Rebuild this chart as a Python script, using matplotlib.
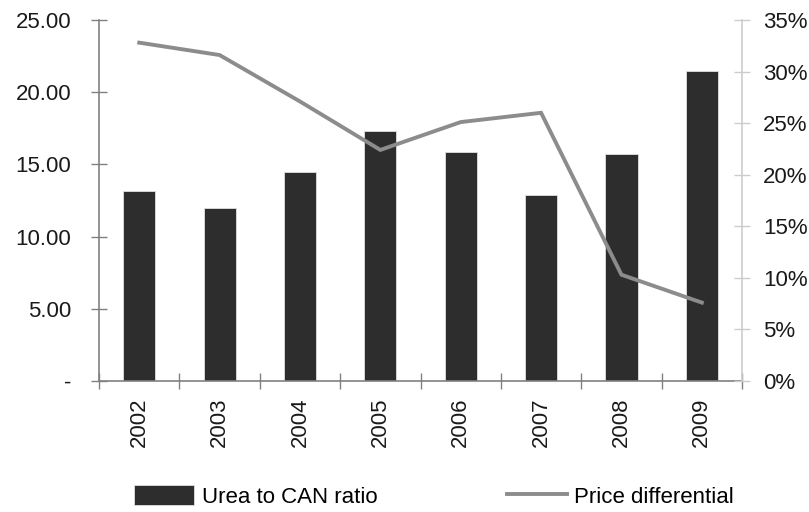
import matplotlib.pyplot as plt
from matplotlib.ticker import FuncFormatter
import numpy as np

plt.rcParams['font.family'] = ['Liberation Sans', 'DejaVu Sans']

years = ['2002', '2003', '2004', '2005', '2006', '2007', '2008', '2009']
urea_can_ratio = [13.18, 11.96, 14.50, 17.33, 15.84, 12.88, 15.70, 21.47]
price_diff = [0.328, 0.316, 0.271, 0.224, 0.251, 0.260, 0.103, 0.076]

x = np.arange(len(years))
fs = 16

fig = plt.figure(figsize=(8.09, 5.12), dpi=100)
ax = fig.add_axes([0.1224, 0.2559, 0.7948, 0.7051])
ax2 = ax.twinx()

bars = ax.bar(x, urea_can_ratio, width=0.4, color='#2d2d2d', edgecolor='#e0e0e0',
              linewidth=0.6, label='Urea to CAN ratio', zorder=2)
line, = ax2.plot(x, price_diff, color='#8c8c8c', linewidth=2.8,
                 label='Price differential', solid_joinstyle='miter')

ax.set_xlim(-0.5, len(years) - 0.5)
ax.set_ylim(0, 25)
ax2.set_ylim(0, 0.35)

ax.set_yticks(np.arange(0, 26, 5))
ax.yaxis.set_major_formatter(FuncFormatter(lambda v, p: '-' if v == 0 else f'{v:.2f}'))
ax2.set_yticks(np.arange(0, 0.351, 0.05))
ax2.yaxis.set_major_formatter(FuncFormatter(lambda v, p: f'{round(v * 100):d}%'))

# category boundaries carry the x ticks, year names sit at the centres
ax.set_xticks(np.arange(-0.5, len(years), 1.0))
ax.set_xticklabels([])
ax.set_xticks(x, minor=True)
ax.set_xticklabels(years, minor=True, rotation=90)
ax.tick_params(axis='x', which='minor', length=0, pad=12, labelsize=fs, labelcolor='#1a1a1a')
ax.tick_params(axis='x', which='major', direction='inout', length=12, width=1, color='#808080')

ax.tick_params(axis='y', direction='inout', length=12, width=1, color='#808080',
               pad=14, labelsize=fs, labelcolor='#1a1a1a')
ax2.tick_params(axis='y', direction='inout', length=12, width=1, color='#cccccc',
                pad=9, labelsize=fs, labelcolor='#1a1a1a')

for a in (ax, ax2):
    a.spines['top'].set_visible(False)
ax.spines['right'].set_visible(False)
ax.spines['left'].set_color('#808080')
ax.spines['bottom'].set_color('#808080')
ax.spines['left'].set_linewidth(1.2)
ax.spines['bottom'].set_linewidth(1.2)
ax2.spines['left'].set_visible(False)
ax2.spines['bottom'].set_visible(False)
ax2.spines['right'].set_color('#cccccc')
ax2.spines['right'].set_linewidth(1.2)

fig.legend([bars, line], ['Urea to CAN ratio', 'Price differential'],
           loc='center left', bbox_to_anchor=(0.155, 0.03), ncol=2, frameon=False,
           fontsize=fs, handlelength=2.7, handleheight=1.0, handletextpad=0.35,
           columnspacing=5.8, borderaxespad=0)

fig.savefig('out.png', dpi=100)
